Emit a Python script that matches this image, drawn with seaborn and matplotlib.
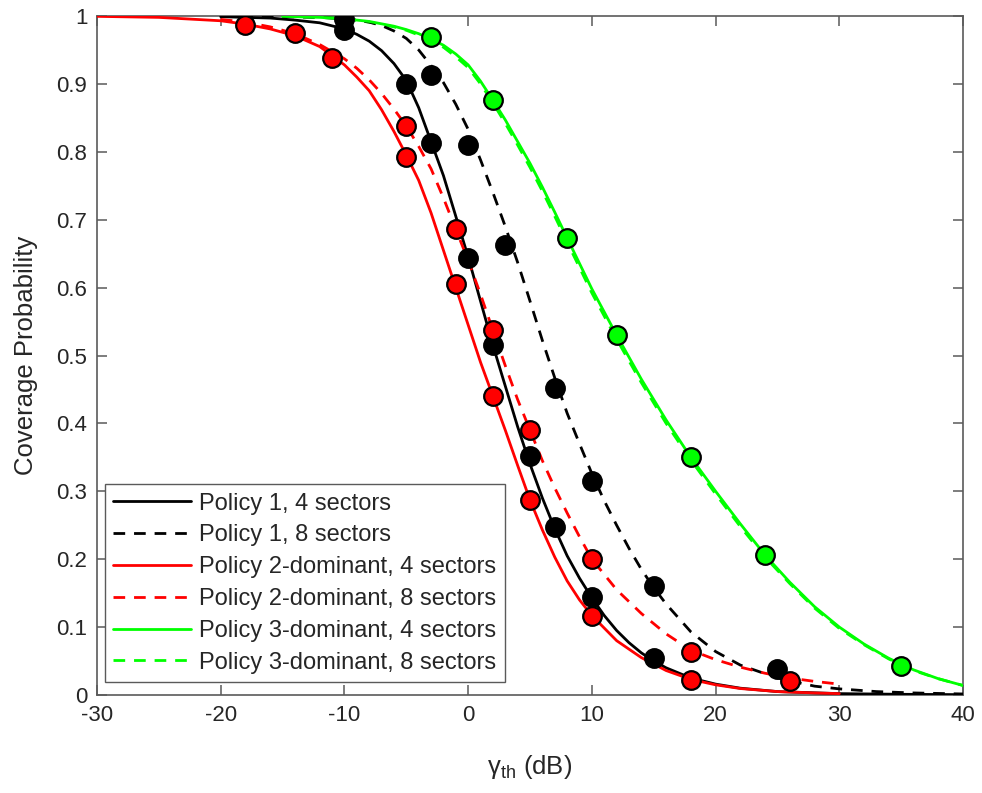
import matplotlib
matplotlib.use("Agg")
import matplotlib.pyplot as plt
from matplotlib import font_manager
import seaborn as sns

# ---------------- data ----------------
# Policy 1, 4 sectors (analytical curve)
p1_4_x = [-20, -18, -16, -14, -12, -10, -9, -8, -7, -6, -5, -4, -3, -2, -1, 0, 1, 2, 3, 4, 5, 6, 7, 8,
          9, 10, 11, 12, 13, 14, 15, 16, 18, 20, 22, 25, 30, 35, 40]
p1_4_y = [0.999, 0.998, 0.997, 0.994, 0.99, 0.981, 0.973, 0.963, 0.949, 0.93, 0.905, 0.865, 0.815,
          0.765, 0.705, 0.645, 0.58, 0.515, 0.455, 0.395, 0.34, 0.29, 0.245, 0.205, 0.172, 0.143, 0.117,
          0.095, 0.077, 0.062, 0.05, 0.04, 0.025, 0.016, 0.01, 0.005, 0.002, 0.001, 0.0005]
# Policy 1, 8 sectors
p1_8_x = [-20, -16, -12, -10, -9, -8, -7, -6, -5, -4, -3, -2, -1, 0, 1, 2, 3, 4, 5, 6, 7, 8, 9, 10,
          11, 12, 13, 14, 15, 16, 18, 20, 22, 25, 28, 30, 33, 36, 40]
p1_8_y = [1.0, 0.9995, 0.998, 0.996, 0.994, 0.991, 0.986, 0.978, 0.967, 0.95, 0.927, 0.902, 0.87, 0.833,
          0.788, 0.74, 0.69, 0.637, 0.58, 0.522, 0.467, 0.415, 0.37, 0.326, 0.286, 0.25, 0.216, 0.185,
          0.158, 0.134, 0.093, 0.064, 0.044, 0.025, 0.013, 0.009, 0.005, 0.003, 0.0015]
# Policy 2-dominant, 4 sectors
p2_4_x = [-30, -25, -20, -18, -16, -14, -12, -10, -9, -8, -7, -6, -5, -4, -3, -2, -1, 0, 1, 2, 3, 4,
          5, 6, 7, 8, 9, 10, 12, 14, 16, 18, 20, 22, 25, 28, 30]
p2_4_y = [0.9995, 0.998, 0.993, 0.988, 0.981, 0.971, 0.955, 0.928, 0.91, 0.89, 0.862, 0.83, 0.795,
          0.758, 0.71, 0.655, 0.60, 0.545, 0.49, 0.44, 0.39, 0.338, 0.287, 0.243, 0.203, 0.168, 0.14,
          0.117, 0.08, 0.055, 0.036, 0.023, 0.015, 0.0095, 0.005, 0.003, 0.002]
# Policy 2-dominant, 8 sectors
p2_8_x = [-20, -18, -16, -14, -12, -10, -9, -8, -7, -6, -5, -4, -3, -2, -1, 0, 1, 2, 3, 4, 5, 6, 7,
          8, 9, 10, 12, 14, 16, 18, 20, 22, 24, 26, 28, 30]
p2_8_y = [0.995, 0.991, 0.984, 0.974, 0.958, 0.937, 0.923, 0.906, 0.886, 0.863, 0.838, 0.808, 0.775,
          0.732, 0.686, 0.64, 0.59, 0.537, 0.485, 0.435, 0.39, 0.345, 0.305, 0.268, 0.233, 0.20,
          0.155, 0.12, 0.09, 0.066, 0.052, 0.041, 0.032, 0.025, 0.02, 0.016]
# Policy 3-dominant, 4 sectors
p3_4_x = [-15, -12, -10, -8, -6, -5, -4, -3, -2, -1, 0, 1, 2, 3, 4, 5, 6, 7, 8, 10, 12, 14, 16, 18,
          20, 22, 24, 26, 28, 30, 32, 34, 36, 38, 40]
p3_4_y = [0.9995, 0.998, 0.996, 0.992, 0.985, 0.98, 0.974, 0.966, 0.957, 0.944, 0.928, 0.904, 0.876,
          0.847, 0.815, 0.783, 0.748, 0.711, 0.673, 0.598, 0.53, 0.465, 0.405, 0.35, 0.30, 0.252,
          0.206, 0.166, 0.13, 0.10, 0.075, 0.054, 0.037, 0.024, 0.014]
# Policy 3-dominant, 8 sectors
p3_8_x = [-15, -12, -10, -8, -6, -5, -4, -3, -2, -1, 0, 1, 2, 3, 4, 5, 6, 7, 8, 10, 12, 14, 16, 18,
          20, 22, 24, 26, 28, 30, 32, 34, 36, 38, 40]
p3_8_y = [0.9995, 0.998, 0.996, 0.991, 0.984, 0.979, 0.972, 0.964, 0.954, 0.94, 0.924, 0.9, 0.872,
          0.842, 0.81, 0.777, 0.742, 0.705, 0.667, 0.592, 0.524, 0.46, 0.40, 0.346, 0.296, 0.248,
          0.203, 0.164, 0.128, 0.098, 0.074, 0.053, 0.036, 0.024, 0.014]

# simulation points (markers)
s1_4_x = [-10, -5, -3, 0, 2, 5, 7, 10, 15]
s1_4_y = [0.98, 0.90, 0.813, 0.643, 0.515, 0.352, 0.248, 0.145, 0.055]
s1_8_x = [-10, -3, 0, 3, 7, 10, 15, 25]
s1_8_y = [0.995, 0.913, 0.81, 0.663, 0.452, 0.315, 0.16, 0.038]
s2_4_x = [-18, -14, -11, -5, -1, 2, 5, 10, 18]
s2_4_y = [0.987, 0.975, 0.938, 0.793, 0.606, 0.44, 0.287, 0.117, 0.022]
s2_8_x = [-5, -1, 2, 5, 10, 18, 26]
s2_8_y = [0.838, 0.686, 0.538, 0.39, 0.2, 0.064, 0.02]
s3_x = [-3, 2, 8, 12, 18, 24, 35]
s3_y = [0.969, 0.876, 0.673, 0.53, 0.35, 0.206, 0.042]

labels = ["Policy 1, 4 sectors", "Policy 1, 8 sectors",
          "Policy 2-dominant, 4 sectors", "Policy 2-dominant, 8 sectors",
          "Policy 3-dominant, 4 sectors", "Policy 3-dominant, 8 sectors"]
x_ticks = [-30, -20, -10, 0, 10, 20, 30, 40]
y_ticks = [0, 0.1, 0.2, 0.3, 0.4, 0.5, 0.6, 0.7, 0.8, 0.9, 1]
y_ticklabels = ["0", "0.1", "0.2", "0.3", "0.4", "0.5", "0.6", "0.7", "0.8", "0.9", "1"]

# ---------------- style ----------------
sns.set_theme(style="white")
plt.rcParams["font.family"] = ["Liberation Sans", "DejaVu Sans"]
plt.rcParams["axes.unicode_minus"] = False
plt.rcParams["mathtext.fontset"] = "custom"
plt.rcParams["mathtext.rm"] = "Liberation Sans"
plt.rcParams["mathtext.it"] = "Liberation Sans:italic"

avail = {f.name for f in font_manager.fontManager.ttflist}
if "Liberation Sans Narrow" in avail:
    tick_family, tick_size = ["Liberation Sans Narrow", "DejaVu Sans"], 18.5
else:
    tick_family, tick_size = ["Liberation Sans", "DejaVu Sans"], 16

fig = plt.figure(figsize=(9.82, 7.93), dpi=100)
ax = fig.add_axes([0.0988, 0.1236, 0.8819, 0.8562])

BLACK, RED, GREEN = "#000000", "#FF0000", "#00FF00"
dash = (0, (4.2, 3.2))
lw = 2.0

series = [
    (p1_4_x, p1_4_y, BLACK, "-", labels[0], 3),
    (p1_8_x, p1_8_y, BLACK, dash, labels[1], 3),
    (p2_4_x, p2_4_y, RED, "-", labels[2], 3),
    (p2_8_x, p2_8_y, RED, dash, labels[3], 3),
    (p3_4_x, p3_4_y, GREEN, "-", labels[4], 3),
    (p3_8_x, p3_8_y, GREEN, dash, labels[5], 2.9),
]
for xs, ys, c, ls, lab, z in series:
    sns.lineplot(x=xs, y=ys, color=c, linestyle=ls, linewidth=lw, label=lab, ax=ax,
                 sort=False, estimator=None, zorder=z)

msize = 180
for xs, ys, c in [(s1_4_x, s1_4_y, BLACK), (s1_8_x, s1_8_y, BLACK),
                  (s2_4_x, s2_4_y, RED), (s2_8_x, s2_8_y, RED), (s3_x, s3_y, GREEN)]:
    sns.scatterplot(x=xs, y=ys, color=c, edgecolor="black", linewidth=1.6, s=msize,
                    ax=ax, zorder=4, legend=False)

ax.set_xlim(-30, 40)
ax.set_ylim(0, 1)
ax.set_xticks(x_ticks)
ax.set_xticklabels([str(v) for v in x_ticks])
ax.set_yticks(y_ticks)
ax.set_yticklabels(y_ticklabels)
for t in ax.get_xticklabels() + ax.get_yticklabels():
    t.set_family(tick_family)
    t.set_fontsize(tick_size)

spine_c = "#5a5a5a"
for sp in ax.spines.values():
    sp.set_visible(True)
    sp.set_color(spine_c)
    sp.set_linewidth(1.2)
ax.tick_params(axis="both", which="both", direction="in", length=7, width=1.1,
               color=spine_c, labelcolor="#262626",
               top=True, right=True, bottom=True, left=True, pad=7)

ax.set_xlabel(r"$\mathrm{γ_{th}}$ (dB)", fontsize=18.5, color="#262626", labelpad=20,
              family=tick_family)
ax.set_ylabel("Coverage Probability", fontsize=18.5, color="#262626", labelpad=13,
              family=tick_family)

handles, labs = ax.get_legend_handles_labels()
leg = ax.legend(handles[:6], labs[:6], loc="lower left", bbox_to_anchor=(0.009, 0.019),
                borderaxespad=0, fontsize=17, frameon=True, fancybox=False, framealpha=1,
                edgecolor=spine_c, handlelength=3.3, handletextpad=0.35, labelspacing=0.415,
                borderpad=0.36)
leg.get_frame().set_linewidth(1.0)

fig.savefig("out.png", dpi=100)
